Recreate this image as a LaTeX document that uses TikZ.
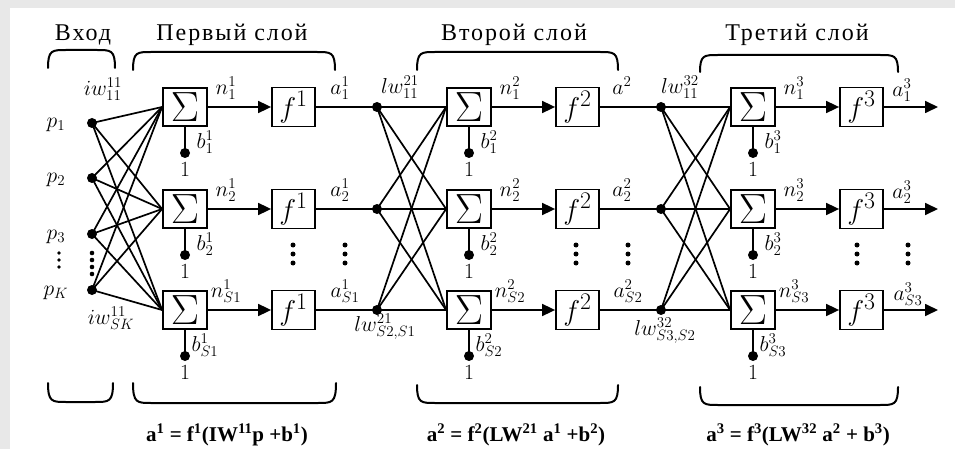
\documentclass[tikz,border=0pt]{standalone}
\usepackage{fontspec}
\setmainfont{Liberation Serif}
\usetikzlibrary{arrows.meta}
\newcommand\mlab[1]{\scalebox{1.25}{$#1$}}
\begin{document}
\begin{tikzpicture}[x=1pt,y=-1pt,
  line width=1.7pt,
  sumbox/.style={draw, line width=1.8pt, minimum width=44pt, minimum height=38pt, inner sep=0pt, fill=white},
  funbox/.style={draw, line width=1.8pt, minimum width=43pt, minimum height=39pt, inner sep=0pt, fill=white},
  bigdot/.style={circle, fill=black, inner sep=0pt, minimum size=10pt},
  lbl/.style={font=\fontsize{17.28}{18}\selectfont, inner sep=0pt},
  ttl/.style={font=\fontsize{24}{24}\selectfont\addfontfeature{LetterSpace=8}, inner sep=0pt, anchor=base},
  frm/.style={font=\fontsize{21}{21}\selectfont\bfseries, inner sep=0pt, anchor=base},
  brc/.style={line width=2pt, line cap=round},
  arr/.style={-{Triangle[length=13pt,width=12pt]}},
  ]
\useasboundingbox (0,0) rectangle (955,449);
\fill[black!9] (0,0) rectangle (955,449);
\fill[white] (10,8) rectangle (955,449);

% titles
\node[ttl] (t0) at (83,41) {Вход};
\node[ttl] (t1) at (232,41) {Первый слой};
\node[ttl] (t2) at (514,41) {Второй слой};
\node[ttl] (t3) at (797,41) {Третий слой};

% top braces
\foreach \xa/\xb/\yt/\ye in {48/115/50/68, 133/335/52/70, 417/618/52/70, 700/898/55/72}{
  \draw[brc] (\xa,\ye) .. controls (\xa,\yt) and (\xa+4,\yt) .. (\xa+18,\yt) -- (\xb-18,\yt) .. controls (\xb-4,\yt) and (\xb,\yt) .. (\xb,\ye);
}
% bottom braces
\foreach \xa/\xb/\yt/\ye in {48/113/402/383, 133/336/403/383, 417/618/403/385, 700/898/405/387}{
  \draw[brc] (\xa,\ye) .. controls (\xa,\yt) and (\xa+4,\yt) .. (\xa+18,\yt) -- (\xb-18,\yt) .. controls (\xb-4,\yt) and (\xb,\yt) .. (\xb,\ye);
}

% layers
\foreach \L in {1,2,3}{
  \pgfmathsetmacro\off{(\L-1)*284}
  \foreach \r/\y/\sub in {1/107/1,2/209/2,3/310/S\L}{
    \node[sumbox] (s\L\r) at (185+\off,\y) {\fontsize{24.88}{25}\selectfont\scalebox{1.7}{$\Sigma$}};
    \node[funbox] (f\L\r) at (293.5+\off,\y) {\fontsize{24.88}{25}\selectfont\scalebox{1.15}{$f^{\L}$}};
    \draw[arr] (s\L\r) -- (f\L\r);
    \node[bigdot] (bd\L\r) at (185+\off,\y+46) {};
    \draw (s\L\r.south) -- (bd\L\r.center);
    \node[lbl] (one\L\r) at (185+\off,\y+63) {\mlab{1}};
    \node[lbl] (b\L\r) at (205+\off,\y+35) {\mlab{b^{\L}_{\sub}}};
    \node[lbl] (n\L\r) at (226+\off,\y-19) {\mlab{n^{\L}_{\sub}}};
  }
}

% input dots
\foreach \k/\y in {1/123,2/178,3/234,4/290}{
  \node[bigdot] (i\k) at (92,\y) {};
}
\foreach \k in {1,2,3,4}{
  \foreach \r in {1,2,3}{
    \draw (i\k.center) -- (s1\r.west);
  }
}
\node[lbl] (p1) at (56,125) {\mlab{p_{1}}};
\node[lbl] (p2) at (56,180) {\mlab{p_{2}}};
\node[lbl] (p3) at (56,237) {\mlab{p_{3}}};
\node[lbl] (pK) at (56,293) {\mlab{p_{K}}};
\node[lbl] (iwa) at (103,89) {\mlab{iw^{11}_{11}}};
\node[lbl] (iwb) at (111,318) {\mlab{iw^{11}_{SK}}};

% inter-layer dots
\foreach \L/\Ln in {1/2,2/3}{
  \pgfmathsetmacro\off{(\L-1)*284}
  \foreach \r/\y in {1/107,2/209,3/310}{
    \node[bigdot] (d\L\r) at (377+\off,\y) {};
    \draw (f\L\r) -- (d\L\r.center);
  }
  \foreach \k in {1,2,3}{
    \foreach \r in {1,2,3}{
      \draw (d\L\k.center) -- (s\Ln\r.west);
    }
  }
}
\node[lbl] (lwa) at (400,87) {\mlab{lw^{21}_{11}}};
\node[lbl] (lwb) at (385,327) {\mlab{lw^{21}_{S2,S1}}};
\node[lbl] (lwc) at (680,87) {\mlab{lw^{32}_{11}}};
\node[lbl] (lwd) at (665,331) {\mlab{lw^{32}_{S3,S2}}};

% outputs
\foreach \r/\y in {1/107,2/209,3/310}{
  \coordinate (o\r) at (938,\y);
  \draw[arr] (f3\r) -- (o\r);
}

% a labels
\node[lbl] (a11) at (340,88) {\mlab{a^{1}_{1}}};
\node[lbl] (a12) at (340,190) {\mlab{a^{1}_{2}}};
\node[lbl] (a13) at (345,291) {\mlab{a^{1}_{S1}}};
\node[lbl] (a21) at (622,86) {\mlab{a^{2}}};
\node[lbl] (a22) at (622,190) {\mlab{a^{2}_{2}}};
\node[lbl] (a23) at (628,291) {\mlab{a^{2}_{S2}}};
\node[lbl] (a31) at (902,90) {\mlab{a^{3}_{1}}};
\node[lbl] (a32) at (902,192) {\mlab{a^{3}_{2}}};
\node[lbl] (a33) at (908,294) {\mlab{a^{3}_{S3}}};

% vertical ellipses
\foreach \x in {293,345,576,628,857,908}{
  \foreach \yy in {245,254,263}{
    \fill (\x,\yy) circle (2.5pt);
  }
}
\foreach \yy in {253,260,267,274}{
  \fill (92,\yy) circle (2.3pt);
}
\foreach \yy in {253,260,267}{
  \fill (59,\yy) circle (1.9pt);
}

% formulas
\node[frm] (e1) at (227,441) {a\textsuperscript{1} = f\textsuperscript{1}(IW\textsuperscript{11}p +b\textsuperscript{1})};
\node[frm] (e2) at (516,441) {a\textsuperscript{2} = f\textsuperscript{2}(LW\textsuperscript{21} a\textsuperscript{1} +b\textsuperscript{2})};
\node[frm] (e3) at (798,441) {a\textsuperscript{3} = f\textsuperscript{3}(LW\textsuperscript{32} a\textsuperscript{2} + b\textsuperscript{3})};
\end{tikzpicture}
\end{document}
